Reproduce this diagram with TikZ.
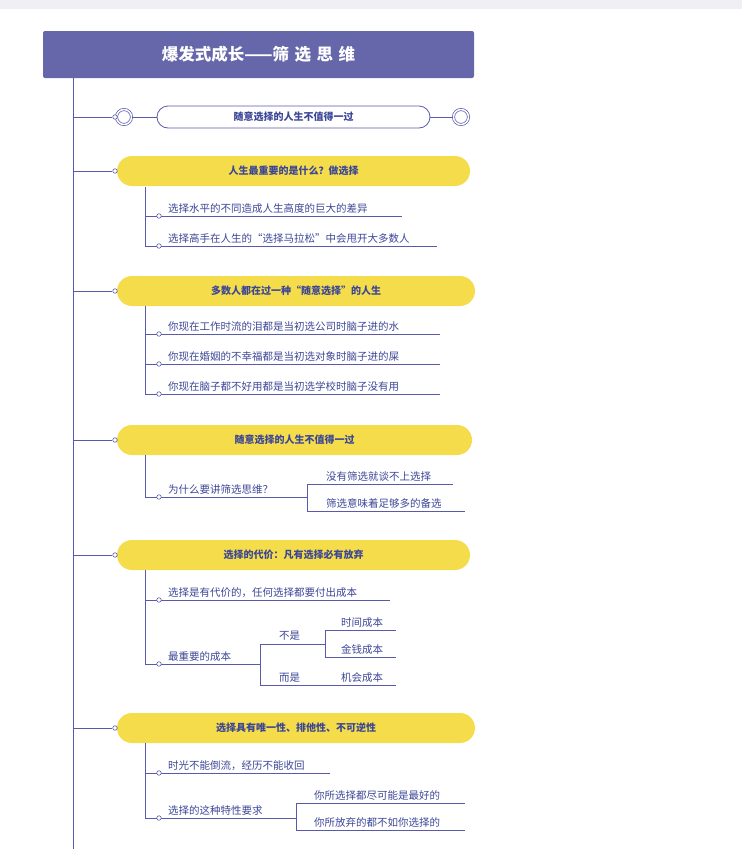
\documentclass[tikz,border=0pt]{standalone}
\usepackage{fontspec}
\setmainfont{Noto Sans CJK SC}
\definecolor{titlepurple}{RGB}{102,102,170}
\definecolor{pillyellow}{RGB}{244,220,74}
\definecolor{linkblue}{RGB}{90,90,170}
\definecolor{textblue}{RGB}{60,70,150}
\definecolor{topgray}{RGB}{240,240,244}
\tikzset{
  link/.style={draw=linkblue,line width=0.9pt},
  pill/.style={fill=pillyellow,rounded corners=15pt,minimum height=30pt,text=textblue,font=\fontsize{10}{12}\selectfont\bfseries},
  item/.style={text=textblue,font=\fontsize{10.5}{12}\selectfont,inner sep=1pt,anchor=south west},
  dot/.style={circle,draw=linkblue,fill=white,inner sep=0pt,minimum size=4.5pt,line width=0.6pt},
  ring/.style={circle,draw=linkblue,fill=white,double=white,double distance=1.5pt,minimum size=15pt,inner sep=0pt,line width=0.7pt}
}
\begin{document}
\begin{tikzpicture}[x=1pt,y=-1pt]
        \useasboundingbox (0,0) rectangle (742,849);
        \fill[topgray] (0,0) rectangle (742,9);

        % title and trunk
        \node[fill=titlepurple,rounded corners=2pt,minimum width=431pt,minimum height=47pt,text=white,font=\fontsize{16.5}{18}\selectfont\bfseries] (title) at (258.5,54.5) {爆发式成长——筛\,\,选\,\,思\,\,维};
        \coordinate (trunkend) at (73,849);
        \draw[link] (title.south -| trunkend) -- (trunkend);

        % summary branch
        \node[draw=linkblue,fill=white,rounded corners=11pt,minimum width=273pt,minimum height=22pt,text=textblue,font=\fontsize{10}{12}\selectfont\bfseries,line width=0.8pt] (sum) at (293.5,117) {随意选择的人生不值得一过};
        \node[ring] (r1) at (124,117) {};
        \node[ring] (r2) at (461,117) {};
        \node[dot] (d0) at (115,117) {};
        \draw[link] (73,117) -- (d0);
        \draw[link] (r1) -- (sum) -- (r2);

        % pills
        \node[pill,minimum width=353pt] (p1) at (293.5,171) {人生最重要的是什么？做选择};
        \node[pill,minimum width=358pt] (p2) at (296,291) {多数人都在过一种“随意选择”的人生};
        \node[pill,minimum width=355pt] (p3) at (294.5,440) {随意选择的人生不值得一过};
        \node[pill,minimum width=353pt] (p4) at (293.5,555) {选择的代价：凡有选择必有放弃};
        \node[pill,minimum width=358pt] (p5) at (296,728) {选择具有唯一性、排他性、不可逆性};
        \foreach \p/\y in {p1/171,p2/291,p3/440,p4/555,p5/728}{
          \node[dot] (\p d) at (115,\y) {};
          \draw[link] (73,\y) -- (\p d);
        }

        % first group
        \node[item] (a1) at (167,215) {选择水平的不同造成人生高度的巨大的差异};
        \node[item] (a2) at (167,245) {选择高手在人生的“选择马拉松”中会甩开大多数人};
        \draw[link] (145,187) |- (402,216);
        \draw[link] (145,216) |- (437,246);

        % second group
        \node[item] (b1) at (167,333) {你现在工作时流的泪都是当初选公司时脑子进的水};
        \node[item] (b2) at (167,363) {你现在婚姻的不幸福都是当初选对象时脑子进的屎};
        \node[item] (b3) at (167,393) {你现在脑子都不好用都是当初选学校时脑子没有用};
        \draw[link] (145,306) |- (440,334);
        \draw[link] (145,334) |- (440,364);
        \draw[link] (145,364) |- (440,394);

        % third group
        \node[item] (c1) at (167,496) {为什么要讲筛选思维？};
        \node[item] (c2) at (325,483) {没有筛选就谈不上选择};
        \node[item] (c3) at (325,510) {筛选意味着足够多的备选};
        \draw[link] (145,455) |- (307,497);
        \draw[link] (307,484) -- (453,484);
        \draw[link] (307,484) |- (465,511);

        % fourth group
        \node[item] (e1) at (167,599) {选择是有代价的，任何选择都要付出成本};
        \node[item] (e2) at (167,663) {最重要的成本};
        \node[item] (e3) at (278,642) {不是};
        \node[item] (e4) at (278,684) {而是};
        \node[item] (e5) at (340,629) {时间成本};
        \node[item] (e6) at (340,656) {金钱成本};
        \node[item] (e7) at (340,684) {机会成本};
        \draw[link] (145,570) |- (390,600);
        \draw[link] (145,600) |- (260,664);
        \draw[link] (260,644) -- (325,644);
        \draw[link] (260,644) |- (396,685);
        \draw[link] (325,630) -- (396,630);
        \draw[link] (325,630) |- (396,657);

        % fifth group
        \node[item] (f1) at (167,772) {时光不能倒流，经历不能收回};
        \node[item] (f2) at (167,817) {选择的这种特性要求};
        \node[item] (f3) at (313,802) {你所选择都尽可能是最好的};
        \node[item] (f4) at (313,829) {你所放弃的都不如你选择的};
        \draw[link] (145,743) |- (330,773);
        \draw[link] (145,773) |- (296,818);
        \draw[link] (296,803) -- (465,803);
        \draw[link] (296,803) |- (465,830);

        % end markers of the items
        \foreach \y in {216,246,334,364,394,497,600,664,773,818}{
          \node[dot] at (159,\y) {};
        }
    \end{tikzpicture}
\end{document}
